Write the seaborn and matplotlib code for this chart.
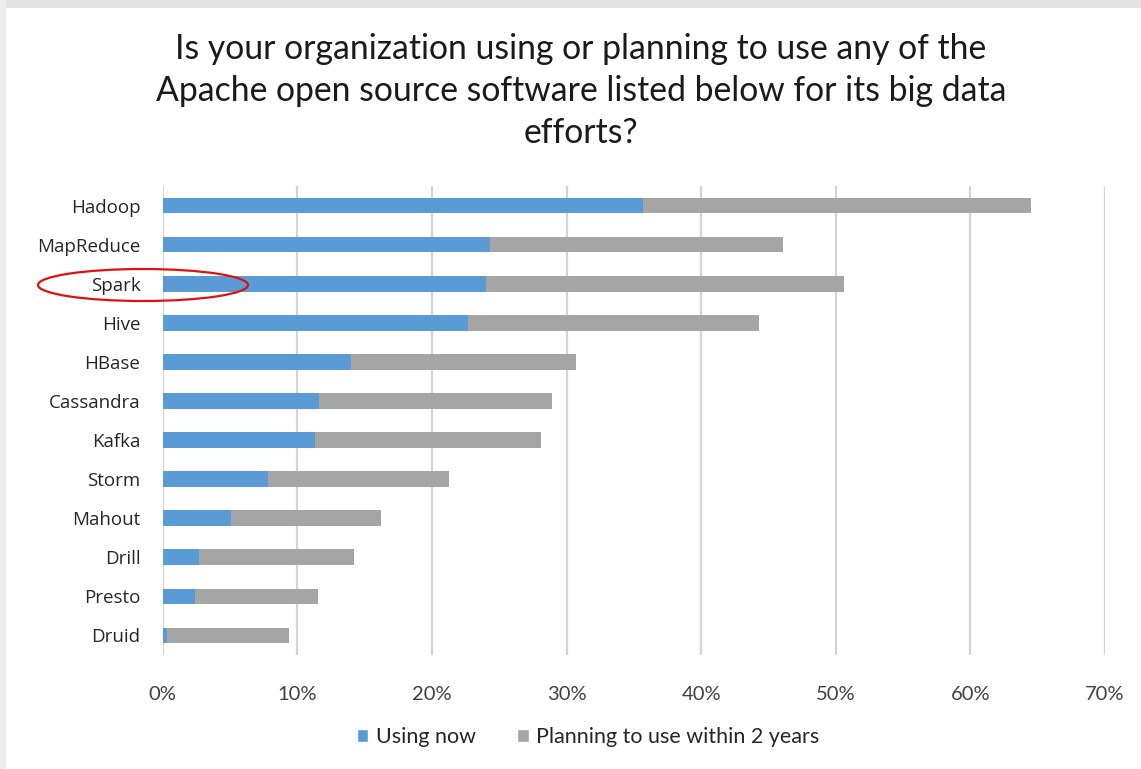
import matplotlib
matplotlib.use("Agg")
import matplotlib.pyplot as plt
from matplotlib.patches import Ellipse, Rectangle, Patch
import seaborn as sns
import pandas as pd

categories = ["Hadoop", "MapReduce", "Spark", "Hive", "HBase", "Cassandra",
              "Kafka", "Storm", "Mahout", "Drill", "Presto", "Druid"]
using_now = [35.7, 24.3, 24.0, 22.7, 14.0, 11.6, 11.3, 7.8, 5.1, 2.7, 2.4, 0.3]
planning = [28.8, 21.8, 26.6, 21.6, 16.7, 17.3, 16.8, 13.5, 11.1, 11.5, 9.1, 9.1]
xticks = [0, 10, 20, 30, 40, 50, 60, 70]
xtick_labels = ["0%", "10%", "20%", "30%", "40%", "50%", "60%", "70%"]
title = ("Is your organization using or planning to use any of the\n"
         "Apache open source software listed below for its big data\n"
         "efforts?")

BLUE = "#5B9BD5"
GRAY = "#A5A5A5"

df = pd.DataFrame({"cat": categories, "now": using_now, "plan": planning})
df["total"] = df["now"] + df["plan"]

sns.set_theme(style="white")
plt.rcParams["font.family"] = ["Open Sans", "DejaVu Sans"]

fig = plt.figure(figsize=(11.41, 7.69), dpi=100)
fig.patch.set_facecolor("white")
# slide decoration
fig.patches.append(Rectangle((0, 1 - 8 / 769), 1, 8 / 769, transform=fig.transFigure,
                             facecolor="#E3E3E3", edgecolor="none", zorder=0))
fig.patches.append(Rectangle((0, 0), 6 / 1141, 1, transform=fig.transFigure,
                             facecolor="#EDEDED", edgecolor="none", zorder=0))

ax = fig.add_axes([162.7 / 1141, 1 - 655 / 769, (1105 - 162.7) / 1141, (655 - 186) / 769])

sns.barplot(data=df, y="cat", x="total", color=GRAY, orient="h", width=0.4,
            ax=ax, saturation=1, zorder=3, linewidth=0)
sns.barplot(data=df, y="cat", x="now", color=BLUE, orient="h", width=0.4,
            ax=ax, saturation=1, zorder=4, linewidth=0)

ax.set_xlim(0, 70)
ax.set_ylim(len(categories) - 0.5, -0.5)
ax.set_xticks(xticks)
ax.set_xticklabels(xtick_labels, fontsize=14.5, color="#404040", fontfamily="Lato")
ax.tick_params(axis="y", labelsize=13.5, colors="#262626", pad=16, length=0)
ax.tick_params(axis="x", length=0, pad=22)
ax.set_xlabel("")
ax.set_ylabel("")
for s in ax.spines.values():
    s.set_visible(False)
ax.xaxis.grid(True, color="#D4D4D4", linewidth=1.6, zorder=0)
ax.set_axisbelow(True)

fig.text(581 / 1141, 1 - 33 / 769, title, ha="center", va="top", fontsize=24.3,
         fontfamily="Lato", color="#1a1a1a", linespacing=1.38)

# legend
handles = [Patch(facecolor=BLUE, label="Using now"),
           Patch(facecolor=GRAY, label="Planning to use within 2 years")]
fig.legend(handles=handles, loc="center", bbox_to_anchor=(588 / 1141, 1 - 737 / 769),
           ncol=2, frameon=False, handlelength=0.55, handleheight=0.55,
           handletextpad=0.35, columnspacing=1.9,
           prop={"family": "Lato", "size": 15.5}, labelcolor="#262626")

# red highlight ellipse around Spark
fig.patches.append(Ellipse((143 / 1141, 1 - 285 / 769), 210 / 1141, 32 / 769,
                           transform=fig.transFigure, fill=False,
                           edgecolor="#E01010", linewidth=1.6, zorder=10))

fig.savefig("out.png", dpi=100)
